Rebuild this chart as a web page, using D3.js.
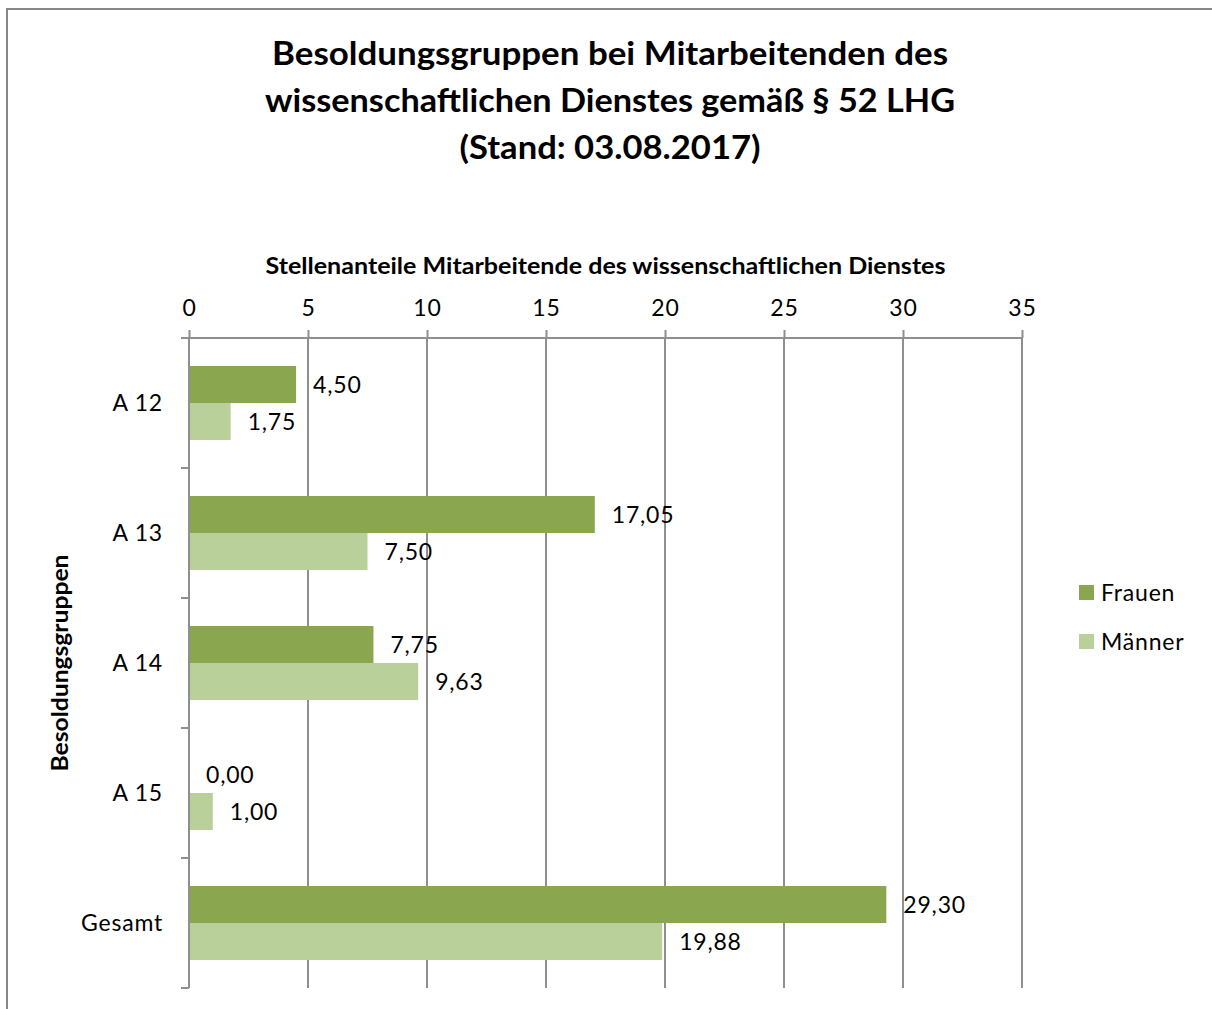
<!DOCTYPE html>
<html><head><meta charset="utf-8">
<script src="https://cdn.jsdelivr.net/npm/d3@7"></script>
<style>body{margin:0;background:#fff}svg{display:block;font-family:Lato,"Noto Sans",sans-serif}</style>
</head><body>
<svg id="c" width="1212" height="1009"></svg>
<script>
const categories = ["A 12","A 13","A 14","A 15","Gesamt"];
const seriesNames = ["Frauen","Männer"];
const frauen = [4.50, 17.05, 7.75, 0.00, 29.30];
const maenner = [1.75, 7.50, 9.63, 1.00, 19.88];
const tickValues = [0,5,10,15,20,25,30,35];
const titleLines = ["Besoldungsgruppen bei Mitarbeitenden des","wissenschaftlichen Dienstes gemäß § 52 LHG","(Stand: 03.08.2017)"];
const xTitle = "Stellenanteile Mitarbeitende des wissenschaftlichen Dienstes";
const yTitle = "Besoldungsgruppen";
const colors = ["#8aa64f","#bad09a"];

const svg = d3.select("#c");
const L = 189, R = 1022, T = 338, B = 988;
const gridColor = "#8f8f8f";
const FS = 23, LS = 0.8;

// outer border
svg.append("rect").attr("x",7).attr("y",9).attr("width",1300).attr("height",1100)
  .attr("fill","none").attr("stroke","#878787").attr("stroke-width",2);

// title
const titleWidths = [676, 690, 301];
svg.append("g").selectAll("text").data(titleLines).join("text")
  .attr("x",610).attr("y",(d,i)=>65+i*47).attr("text-anchor","middle")
  .attr("font-size",32).attr("font-weight","bold").attr("fill","#000")
  .attr("textLength",(d,i)=>titleWidths[i]).attr("lengthAdjust","spacingAndGlyphs")
  .text(d=>d);

const x = d3.scaleLinear().domain([0,35]).range([L,R]);
const y = d3.scaleBand().domain(categories).range([T,B]).padding(0);
const ys = d3.scaleBand().domain(seriesNames).range([28,102]).padding(0);

// gridlines
svg.append("g").selectAll("line").data(tickValues.slice(1)).join("line")
  .attr("x1",d=>x(d)).attr("x2",d=>x(d)).attr("y1",T).attr("y2",B)
  .attr("stroke",gridColor).attr("stroke-width",2);

// top axis
const xAxis = d3.axisTop(x).tickValues(tickValues).tickSize(8).tickPadding(14).tickFormat(d3.format("d"));
const gx = svg.append("g").attr("transform",`translate(0,${T})`).call(xAxis);
gx.select(".domain").attr("d",`M${L-8},0H${R}`).attr("stroke",gridColor).attr("stroke-width",2);
gx.selectAll(".tick line").attr("stroke",gridColor).attr("stroke-width",2);
gx.selectAll(".tick text").attr("font-size",FS).attr("letter-spacing",LS).attr("font-family","Lato").attr("fill","#000");

// left axis
const bounds = categories.map(c=>y(c)).concat([B]);
svg.append("line").attr("x1",L).attr("x2",L).attr("y1",T).attr("y2",B).attr("stroke",gridColor).attr("stroke-width",2);
svg.append("g").selectAll("line").data(bounds).join("line")
  .attr("x1",L-8).attr("x2",L).attr("y1",d=>d).attr("y2",d=>d)
  .attr("stroke",gridColor).attr("stroke-width",2);
svg.append("g").selectAll("text").data(categories).join("text")
  .attr("x",163).attr("y",d=>y(d)+y.bandwidth()/2).attr("dy","0.35em")
  .attr("text-anchor","end").attr("font-size",FS).attr("letter-spacing",LS).attr("fill","#000").text(d=>d);

// bars
const rows = [];
categories.forEach((c,i)=>{
  rows.push({c, s:"Frauen", v:frauen[i], col:colors[0]});
  rows.push({c, s:"Männer", v:maenner[i], col:colors[1]});
});
svg.append("g").selectAll("rect").data(rows).join("rect")
  .attr("x",x(0)+1).attr("y",d=>y(d.c)+ys(d.s))
  .attr("width",d=>Math.max(0,x(d.v)-x(0)-1)).attr("height",ys.bandwidth())
  .attr("fill",d=>d.col);

const fmt = v => d3.format(".2f")(v).replace(".",",");
svg.append("g").selectAll("text").data(rows).join("text")
  .attr("x",d=>x(d.v)+17).attr("y",d=>y(d.c)+ys(d.s)+ys.bandwidth()/2).attr("dy","0.35em")
  .attr("font-size",FS).attr("letter-spacing",LS).attr("fill","#000").text(d=>fmt(d.v));

// axis titles
svg.append("text").attr("x",(L+R)/2).attr("y",274).attr("text-anchor","middle")
  .attr("font-size",22).attr("font-weight","bold")
  .attr("textLength",680).attr("lengthAdjust","spacingAndGlyphs").text(xTitle);
svg.append("text").attr("transform",`translate(68,${(T+B)/2}) rotate(-90)`).attr("text-anchor","middle")
  .attr("font-size",22).attr("font-weight","bold")
  .attr("textLength",217).attr("lengthAdjust","spacingAndGlyphs").text(yTitle);

// legend
const lg = svg.append("g").selectAll("g").data(seriesNames).join("g")
  .attr("transform",(d,i)=>`translate(1079,${585+i*49})`);
lg.append("rect").attr("width",15).attr("height",15).attr("fill",(d,i)=>colors[i]);
lg.append("text").attr("x",22).attr("y",7.5).attr("dy","0.35em").attr("font-size",FS).attr("letter-spacing",LS).text(d=>d);
</script>
</body></html>
